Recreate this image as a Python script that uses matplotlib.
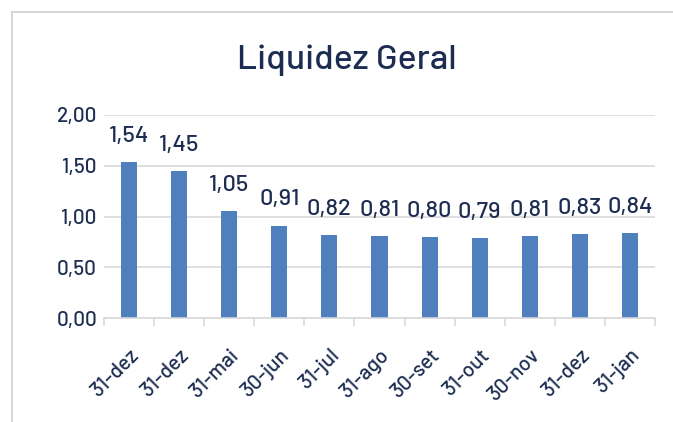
import matplotlib
matplotlib.use("Agg")
import matplotlib.pyplot as plt
from matplotlib.lines import Line2D
import numpy as np

categories = ["31-dez", "31-dez", "31-mai", "30-jun", "31-jul", "31-ago",
              "30-set", "31-out", "30-nov", "31-dez", "31-jan"]
values = [1.54, 1.45, 1.05, 0.91, 0.82, 0.81, 0.80, 0.79, 0.81, 0.83, 0.84]
yticks = [0.0, 0.5, 1.0, 1.5, 2.0]

TXT = "#1d2d52"
BAR = "#4f7fbc"
GRID = "#d9d9d9"
plt.rcParams['font.family'] = ['Barlow', 'DejaVu Sans']
plt.rcParams['font.weight'] = 500

W, H = 673, 422
fig = plt.figure(figsize=(W / 100, H / 100), dpi=100)

# outer frame (left and top edges visible)
fig.add_artist(Line2D([12 / W, 12 / W], [0, 1 - 12 / H], color="#d0d0d0", lw=1.2, transform=fig.transFigure))
fig.add_artist(Line2D([12 / W, 1], [1 - 12 / H, 1 - 12 / H], color="#d0d0d0", lw=1.2, transform=fig.transFigure))

left, right, top, bottom = 104, 655, 115, 318
ax = fig.add_axes([left / W, 1 - bottom / H, (right - left) / W, (bottom - top) / H])

x = np.arange(len(categories))
ax.bar(x, values, width=0.32, color=BAR, zorder=3)
ax.set_xlim(-0.5, len(categories) - 0.5)
ax.set_ylim(0, 2.0)
ax.set_yticks(yticks)
ax.set_yticklabels([f"{v:.2f}".replace(".", ",") for v in yticks], fontsize=15, color=TXT)
ax.yaxis.grid(True, color=GRID, lw=1.2, zorder=0)
ax.tick_params(axis='y', length=0, pad=5)

for s in ["top", "right", "left"]:
    ax.spines[s].set_visible(False)
ax.spines["bottom"].set_color(GRID)
ax.spines["bottom"].set_linewidth(1.2)
ax.spines["bottom"].set_zorder(4)

ax.set_xticks(x)
ax.set_xticklabels(categories, rotation=45, ha='right', va='top', rotation_mode='anchor',
                   fontsize=15, color=TXT)
ax.tick_params(axis='x', which='major', length=0, pad=20)
ax.set_xticks(np.arange(len(categories) + 1) - 0.5, minor=True)
ax.tick_params(axis='x', which='minor', length=6, color=GRID, width=1.2)

for xi, v in zip(x, values):
    ax.annotate(f"{v:.2f}".replace(".", ","), (xi, v), xytext=(0, 14.5), textcoords="offset points",
                ha='center', va='baseline', fontsize=17, color=TXT)

fig.text(347 / W, 1 - 69 / H, "Liquidez Geral", ha='center', va='baseline', fontsize=25.5, color=TXT)

fig.savefig("out.png", dpi=100)
